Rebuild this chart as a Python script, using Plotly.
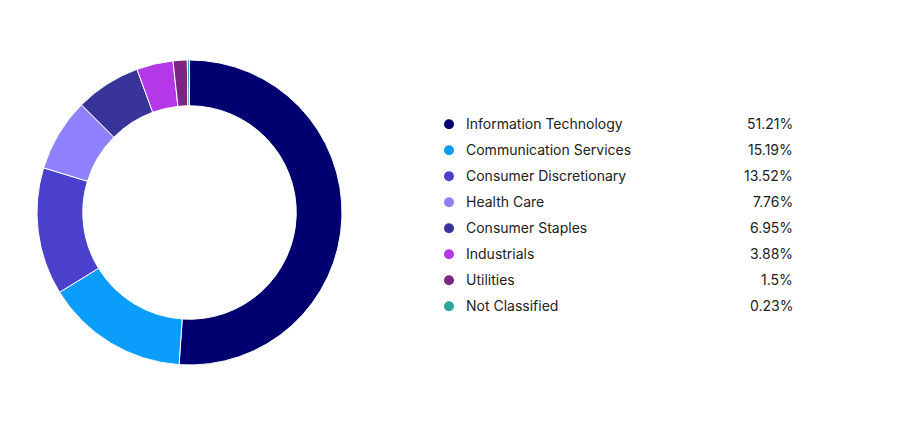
import plotly.graph_objects as go

sectors = ["Information Technology", "Communication Services", "Consumer Discretionary",
           "Health Care", "Consumer Staples", "Industrials", "Utilities", "Not Classified"]
weights = [51.21, 15.19, 13.52, 7.76, 6.95, 3.88, 1.5, 0.23]
weight_labels = ["51.21%", "15.19%", "13.52%", "7.76%", "6.95%", "3.88%", "1.5%", "0.23%"]
colors = ["#000070", "#0a9dfc", "#4a40cc", "#8f80fe", "#38349a", "#b438e8", "#7d2582", "#2ea397"]

W, H = 914, 440
fig = go.Figure()

fig.add_trace(go.Pie(
    values=weights, labels=sectors, sort=False, direction="clockwise", rotation=0,
    hole=0.70, textinfo="none", hoverinfo="label+percent",
    marker=dict(colors=colors, line=dict(color="white", width=1)),
    domain=dict(x=[37 / W, 342 / W], y=[1 - 365 / H, 1 - 60 / H]),
    showlegend=False,
))

row0, step = 124.3, 26
rows = [row0 + i * step for i in range(len(sectors))]

fig.add_trace(go.Scatter(
    x=[449] * len(sectors), y=rows, mode="markers",
    marker=dict(size=10, color=colors, line=dict(width=0)),
    hoverinfo="skip", showlegend=False,
))

for name, lab, y in zip(sectors, weight_labels, rows):
    fig.add_annotation(x=464, y=y - 0.5, xref="x", yref="y", text=name, showarrow=False,
                       xanchor="left", yanchor="middle",
                       font=dict(family="Inter", size=14, color="#222222"))
    fig.add_annotation(x=795, y=y - 0.5, xref="x", yref="y", text=lab, showarrow=False,
                       xanchor="right", yanchor="middle",
                       font=dict(family="Inter", size=14, color="#222222"))

fig.update_layout(
    width=W, height=H, margin=dict(l=0, r=0, t=0, b=0),
    paper_bgcolor="white", plot_bgcolor="rgba(0,0,0,0)",
    xaxis=dict(range=[0, W], visible=False, fixedrange=True),
    yaxis=dict(range=[H, 0], visible=False, fixedrange=True),
)

fig.write_html("out.html")
